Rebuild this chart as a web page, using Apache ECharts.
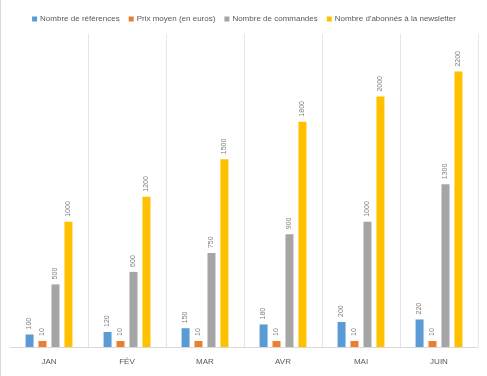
<!DOCTYPE html>
<html>
<head>
<meta charset="utf-8">
<script src="https://cdn.jsdelivr.net/npm/echarts@6/dist/echarts.min.js"></script>
<style>
  html, body { margin: 0; padding: 0; background: #fff; }
  #chart { width: 486px; height: 376px; border-left: 1px solid #d9d9d9; }
</style>
</head>
<body>
<div id="chart"></div>
<script>
const months = ['JAN', 'FÉV', 'MAR', 'AVR', 'MAI', 'JUIN'];
const references = [100, 120, 150, 180, 200, 220];
const prixMoyen = [10, 10, 10, 10, 10, 10];
const commandes = [500, 600, 750, 900, 1000, 1300];
const abonnes = [1000, 1200, 1500, 1800, 2000, 2200];

const seriesNames = [
  'Nombre de références',
  'Prix moyen (en euros)',
  'Nombre de commandes',
  "Nombre d'abonnés à la newsletter"
];
const colors = ['#5B9BD5', '#ED7D31', '#A5A5A5', '#FFC000'];

const chart = echarts.init(document.getElementById('chart'));

// étiquettes verticales au-dessus des barres
const label = {
  show: true,
  position: 'top',
  rotate: 90,
  align: 'left',
  verticalAlign: 'middle',
  distance: 5,
  color: '#808080',
  fontSize: 7,
  fontFamily: 'Liberation Sans'
};

const makeSeries = (name, data, color) => ({
  name: name,
  type: 'bar',
  data: data,
  barWidth: 8,
  barGap: '62%',
  barMinHeight: 6,
  itemStyle: { color: color },
  label: label
});

chart.setOption({
  animation: false,
  color: colors,
  textStyle: { fontFamily: 'Liberation Sans' },
  legend: {
    top: 10,
    left: 'center',
    itemWidth: 5,
    itemHeight: 5,
    itemGap: 9,
    icon: 'rect',
    textStyle: { color: '#595959', fontSize: 8, padding: [0, 0, 0, -2] },
    data: seriesNames
  },
  grid: { left: 9, right: 9, top: 34, bottom: 29 },
  xAxis: {
    type: 'category',
    data: months,
    axisLine: { lineStyle: { color: '#d9d9d9' } },
    axisTick: { show: false },
    axisLabel: { color: '#595959', fontSize: 8, margin: 11 },
    splitLine: {
      show: true,
      interval: (i) => i > 0,
      lineStyle: { color: '#e6e6e6' }
    }
  },
  yAxis: {
    type: 'value',
    min: 0,
    max: 2500,
    show: false,
    splitLine: { show: false }
  },
  series: [
    makeSeries(seriesNames[0], references, colors[0]),
    makeSeries(seriesNames[1], prixMoyen, colors[1]),
    makeSeries(seriesNames[2], commandes, colors[2]),
    makeSeries(seriesNames[3], abonnes, colors[3])
  ]
});
</script>
</body>
</html>
